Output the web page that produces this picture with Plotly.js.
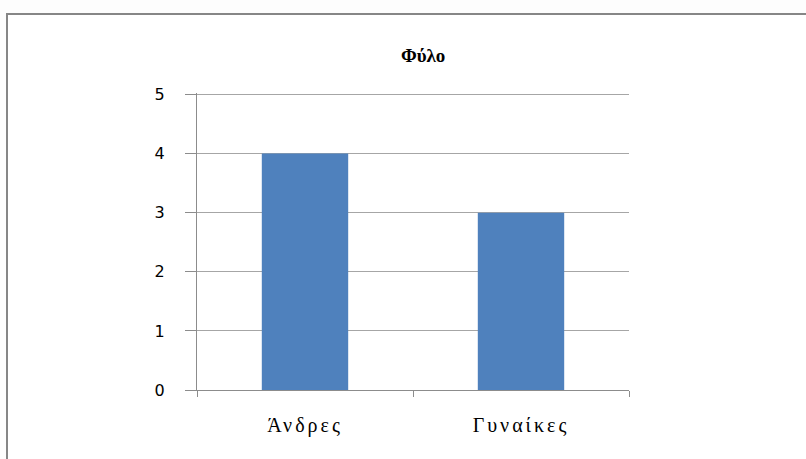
<!DOCTYPE html>
<html><head><meta charset="utf-8">
<script src="https://cdn.plot.ly/plotly-3.0.1.min.js"></script>
<style>
html,body{margin:0;padding:0;background:#fdfdfd;overflow:hidden;}
#frame{position:absolute;left:6px;top:13px;width:900px;height:500px;border:2px solid #868686;background:#fff;}
#chart{position:absolute;left:0;top:0;width:806px;height:459px;}
#chart .xtick text{letter-spacing:3px;}
</style></head>
<body>
<div id="frame"></div>
<div id="chart"></div>
<script>
const categories = ["Άνδρες", "Γυναίκες"];
const values = [4, 3];
const yTicks = [0, 1, 2, 3, 4, 5];
const chartTitle = "Φύλο";

const trace = {
  type: "bar",
  x: categories,
  y: values,
  marker: {color: "#4F81BD"},
  width: 0.4,
  hoverinfo: "x+y"
};
const layout = {
  width: 806, height: 459,
  margin: {l: 197, r: 177, t: 93, b: 69},
  paper_bgcolor: "rgba(0,0,0,0)",
  plot_bgcolor: "rgba(0,0,0,0)",
  showlegend: false,
  title: {
    text: "<b>" + chartTitle + "</b>",
    font: {family: "Liberation Serif", size: 19, color: "#000"},
    x: 0.525, xanchor: "center", xref: "container",
    y: 0.88, yanchor: "middle", yref: "container"
  },
  xaxis: {
    type: "category",
    showline: true, linecolor: "#8c8c8c", linewidth: 1,
    ticks: "outside", tickson: "boundaries", ticklen: 6, tickcolor: "#8c8c8c",
    showgrid: false,
    tickfont: {family: "Liberation Serif", size: 20, color: "#000"},
    ticklabelstandoff: 17
  },
  yaxis: {
    range: [0, 5.025],
    tickvals: yTicks,
    showline: true, linecolor: "#8c8c8c", linewidth: 1,
    ticks: "outside", ticklen: 11, tickcolor: "#8c8c8c",
    showgrid: true, gridcolor: "#a6a6a6", gridwidth: 1,
    zeroline: false,
    tickfont: {family: "DejaVu Sans", size: 16, color: "#000"},
    ticklabelstandoff: 17
  }
};
Plotly.newPlot("chart", [trace], layout, {displayModeBar: false, staticPlot: true});
</script>
</body></html>
